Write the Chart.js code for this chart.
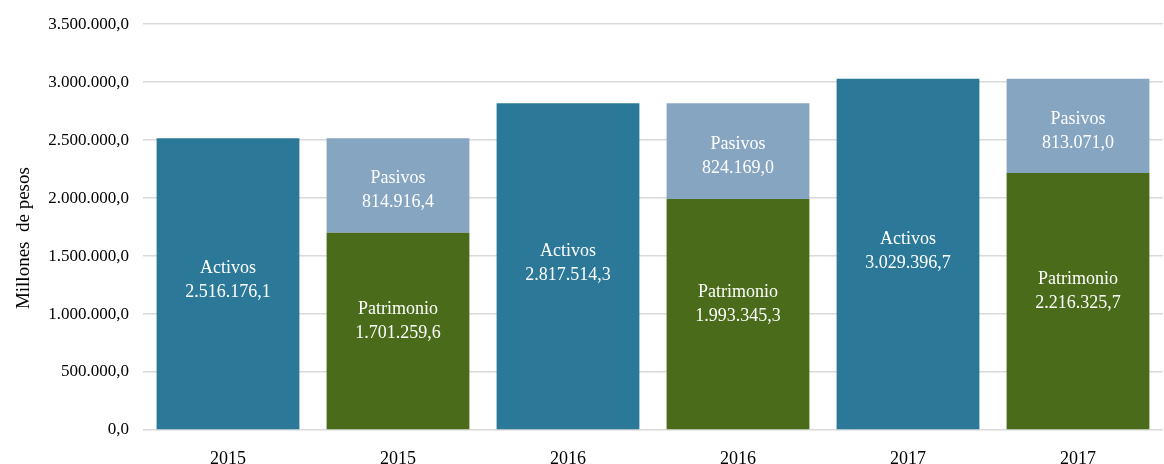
<!DOCTYPE html>
<html>
<head>
<meta charset="utf-8">
<script src="https://cdn.jsdelivr.net/npm/chart.js@4"></script>
<style>
html,body{margin:0;padding:0;background:#fff;}
#wrap{width:1164px;height:464px;position:relative;}
</style>
</head>
<body>
<div id="wrap"><canvas id="c"></canvas></div>
<script>
const categories = ["2015", "2015", "2016", "2016", "2017", "2017"];
const activos = [2516176.1, null, 2817514.3, null, 3029396.7, null];
const patrimonio = [null, 1701259.6, null, 1993345.3, null, 2216325.7];
const pasivos = [null, 814916.4, null, 824169.0, null, 813071.0];
const yTicks = [0, 500000, 1000000, 1500000, 2000000, 2500000, 3000000, 3500000];
const yTitle = "Millones  de pesos";

function fmt(v) {
  const fixed = v.toFixed(1);
  let [i, d] = fixed.split(".");
  i = i.replace(/\B(?=(\d{3})+(?!\d))/g, ".");
  return i + "," + d;
}

// per-series vertical nudge of the in-bar labels (style)
const labelShift = { "Activos": -3, "Patrimonio": -10, "Pasivos": 5 };

const labelPlugin = {
  id: "segLabels",
  afterDatasetsDraw(chart) {
    const ctx = chart.ctx;
    ctx.save();
    ctx.fillStyle = "#ffffff";
    ctx.font = "18px 'Liberation Serif', 'Times New Roman', serif";
    ctx.textAlign = "center";
    ctx.textBaseline = "middle";
    chart.data.datasets.forEach((ds, di) => {
      const meta = chart.getDatasetMeta(di);
      meta.data.forEach((el, i) => {
        const v = ds.data[i];
        if (v == null) return;
        const cy = (el.y + el.base) / 2 + (labelShift[ds.label] || 0);
        ctx.fillText(ds.label, el.x, cy - 12);
        ctx.fillText(fmt(v), el.x, cy + 12);
      });
    });
    ctx.restore();
  }
};

const titlePlugin = {
  id: "yTitle",
  afterDraw(chart) {
    const ctx = chart.ctx;
    const a = chart.chartArea;
    ctx.save();
    ctx.fillStyle = "#000";
    ctx.font = "19px 'Liberation Serif', 'Times New Roman', serif";
    ctx.textAlign = "center";
    ctx.textBaseline = "middle";
    ctx.translate(24, (a.top + a.bottom) / 2 + 11);
    ctx.rotate(-Math.PI / 2);
    ctx.fillText(yTitle, 0, 0);
    ctx.restore();
  }
};

new Chart(document.getElementById("c"), {
  type: "bar",
  data: {
    labels: categories,
    datasets: [
      { label: "Activos", data: activos, backgroundColor: "#2B7898", stack: "s" },
      { label: "Patrimonio", data: patrimonio, backgroundColor: "#4A6C1A", stack: "s" },
      { label: "Pasivos", data: pasivos, backgroundColor: "#86A5C1", stack: "s" }
    ]
  },
  options: {
    responsive: true,
    maintainAspectRatio: false,
    animation: false,
    layout: { padding: { top: 16, right: 1, left: 0, bottom: 0 } },
    datasets: { bar: { categoryPercentage: 1.0, barPercentage: 0.84, skipNull: true } },
    plugins: { legend: { display: false }, tooltip: { enabled: false } },
    scales: {
      x: {
        stacked: true,
        grid: { display: false },
        border: { display: false },
        ticks: { color: "#000", font: { family: "'Liberation Serif', serif", size: 18 }, padding: 10 },
        afterFit(s) { s.height = 34; }
      },
      y: {
        stacked: true,
        min: 0, max: 3500000,
        afterBuildTicks(s) { s.ticks = yTicks.map(v => ({ value: v })); },
        grid: { color: "#d9d9d9", lineWidth: 1.5, drawTicks: false },
        border: { display: false },
        ticks: { color: "#000", font: { family: "'Liberation Serif', serif", size: 17 }, padding: 14, callback: v => fmt(v) },
        afterFit(s) { s.width = 143; }
      }
    }
  },
  plugins: [labelPlugin, titlePlugin]
});
</script>
</body>
</html>
